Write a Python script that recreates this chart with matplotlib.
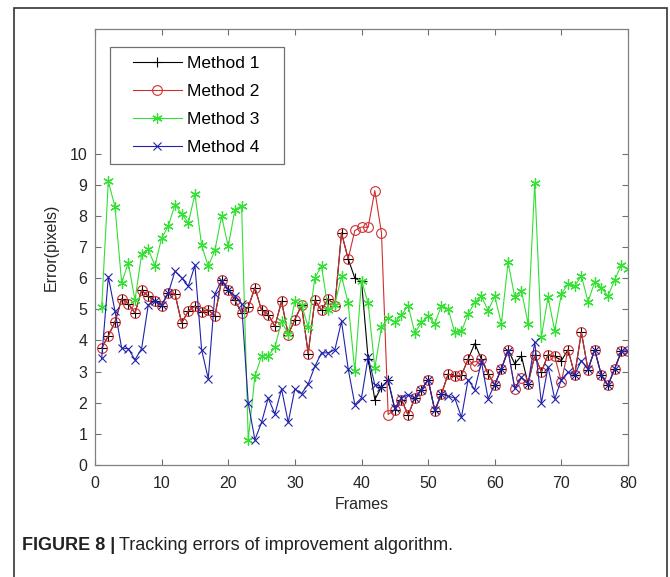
import matplotlib
matplotlib.use("Agg")
import matplotlib.pyplot as plt
from matplotlib.patches import Rectangle
from matplotlib.legend_handler import HandlerLine2D
from matplotlib.lines import Line2D

plt.rcParams['font.family'] = ['Liberation Sans', 'DejaVu Sans']

# dati (frame 1..80)
frames = list(range(1, 81))

method2 = [3.75, 4.15, 4.59, 5.33, 5.18, 4.88, 5.61, 5.42, 5.26, 5.12,
           5.52, 5.50, 4.56, 4.94, 5.10, 4.91, 4.99, 4.78, 5.93, 5.63,
           5.29, 4.88, 5.07, 5.69, 4.97, 4.83, 4.45, 5.26, 4.19, 4.67,
           5.13, 3.58, 5.29, 4.97, 5.34, 5.12, 7.45, 6.62, 7.53, 7.64,
           7.63, 8.81, 7.45, 1.62, 1.78, 2.10, 1.60, 2.15, 2.42, 2.74,
           1.74, 2.28, 2.92, 2.85, 2.88, 3.40, 3.17, 3.40, 2.93, 2.58,
           3.09, 3.70, 2.45, 2.79, 2.61, 3.52, 2.99, 3.54, 3.49, 2.67,
           3.70, 2.90, 4.26, 3.06, 3.70, 2.88, 2.56, 3.09, 3.65, 3.65]

method1 = [3.75, 4.15, 4.59, 5.33, 5.18, 4.88, 5.61, 5.42, 5.26, 5.12,
           5.52, 5.50, 4.56, 4.94, 5.10, 4.91, 4.99, 4.78, 5.93, 5.63,
           5.29, 4.88, 5.07, 5.69, 4.97, 4.83, 4.45, 5.26, 4.19, 4.67,
           5.13, 3.58, 5.29, 4.97, 5.34, 5.12, 7.45, 6.62, 6.00, 5.90,
           3.40, 2.10, 2.51, 2.72, 1.78, 2.10, 1.60, 2.15, 2.42, 2.74,
           1.74, 2.28, 2.92, 2.85, 2.88, 3.40, 3.90, 3.40, 2.93, 2.58,
           3.09, 3.70, 3.25, 3.50, 2.61, 3.52, 2.99, 3.54, 3.49, 3.35,
           3.70, 2.90, 4.26, 3.06, 3.70, 2.88, 2.56, 3.09, 3.65, 3.65]

method3 = [5.06, 9.11, 8.29, 5.85, 6.49, 5.29, 6.78, 6.92, 6.40, 7.29,
           7.67, 8.36, 8.07, 7.77, 8.70, 7.06, 6.38, 6.90, 7.99, 7.02,
           8.20, 8.33, 0.81, 2.85, 3.51, 3.51, 3.78, 4.61, 4.21, 5.26,
           5.15, 4.42, 6.01, 6.38, 4.99, 5.15, 6.06, 5.20, 3.01, 5.92,
           5.20, 3.12, 4.42, 4.72, 4.59, 4.81, 5.12, 4.24, 4.58, 4.78,
           4.54, 5.12, 5.01, 4.26, 4.29, 4.85, 5.22, 5.42, 4.96, 5.42,
           4.54, 6.51, 5.39, 5.60, 4.54, 9.06, 4.11, 5.39, 4.31, 5.49,
           5.81, 5.74, 6.08, 5.24, 5.88, 5.69, 5.42, 5.95, 6.42, 6.30]

method4 = [3.42, 6.04, 4.94, 3.76, 3.73, 3.38, 3.74, 5.15, 5.26, 5.15,
           5.52, 6.22, 6.01, 5.74, 6.41, 3.70, 2.77, 5.50, 5.92, 5.63,
           5.42, 5.18, 1.99, 0.81, 1.37, 2.15, 1.64, 2.44, 1.37, 2.44,
           2.29, 2.60, 3.17, 3.60, 3.60, 3.70, 4.61, 3.09, 1.94, 2.15,
           3.47, 2.58, 2.51, 2.72, 1.83, 2.15, 2.26, 2.15, 2.42, 2.74,
           1.76, 2.28, 2.21, 2.15, 1.53, 2.74, 2.42, 3.31, 2.13, 2.58,
           3.09, 3.67, 2.47, 2.82, 2.61, 3.94, 1.99, 3.15, 2.12, 2.74,
           2.98, 2.90, 3.35, 3.08, 3.70, 2.88, 2.56, 3.09, 3.65, 3.65]

fig = plt.figure(figsize=(6.7, 5.77), dpi=100)
ax = fig.add_axes([95 / 670, 1 - 465 / 577, 533 / 670, 436 / 577])

ax.plot(frames, method1, color='black', marker='+', ms=6.5, mew=0.8, lw=0.8, label='Method 1')
ax.plot(frames, method2, color='#cf2f2f', marker='o', ms=7, mfc='none', mew=0.8, lw=0.8, label='Method 2')
ax.plot(frames, method3, color='#33e033', marker=(6, 2, 0), ms=7.5, mew=0.9, lw=0.8, label='Method 3')
ax.plot(frames, method4, color='#2222aa', marker='x', ms=5.5, mew=0.8, lw=0.8, label='Method 4')

ax.set_xlim(0, 80)
ax.set_ylim(0, 14)
ax.set_xticks(range(0, 81, 10))
ax.set_yticks(range(0, 11))
ax.tick_params(direction='in', top=True, right=True, length=4, width=0.8,
               color='#707070', labelsize=11.5, labelcolor='#262626')
ax.tick_params(axis='x', pad=8)
ax.tick_params(axis='y', pad=5.5)
for s in ax.spines.values():
    s.set_color('#808080')
    s.set_linewidth(0.9)

ax.set_xlabel('Frames', fontsize=11.5, color='#262626', labelpad=4)
ax.set_ylabel('Error(pixels)', fontsize=11.5, color='#262626', labelpad=8)

leg = ax.legend(loc='upper left', bbox_to_anchor=(0.0281, 0.5, 0.3265, 0.4587),
                mode='expand', fontsize=12.5, handlelength=3.64, handletextpad=0.27,
                labelspacing=0.74, borderpad=0.5, fancybox=False, framealpha=1,
                edgecolor='#707070', borderaxespad=0,
                handler_map={Line2D: HandlerLine2D(xpad=0.82)})
leg.get_frame().set_linewidth(0.9)

# cornice esterna e didascalia
fig.add_artist(Rectangle((14 / 670, -0.05), 653 / 670, 1.05 - 8 / 577,
                         transform=fig.transFigure, fill=False,
                         edgecolor='#333333', lw=1.2))
t1 = fig.text(22 / 670, 1 - 545 / 577, 'FIGURE 8 |', fontsize=13,
              fontweight='bold', va='center', color='#222222')
fig.canvas.draw()
bb = t1.get_window_extent()
fig.text(bb.x1 / fig.bbox.width + 4 / 670, 1 - 545 / 577,
         'Tracking errors of improvement algorithm.', fontsize=13,
         va='center', color='#222222')

plt.savefig('out.png', dpi=100)
